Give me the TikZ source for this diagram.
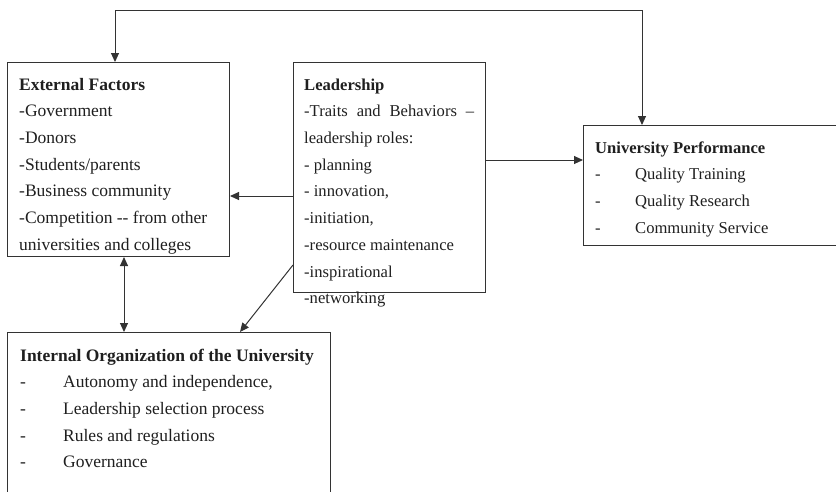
\documentclass[tikz,border=0pt]{standalone}
\usepackage{fontspec}
\setmainfont{Liberation Serif}
\usetikzlibrary{arrows.meta, positioning}

\begin{document}
\begin{tikzpicture}[x=1pt, y=-1pt, >={Triangle[length=9pt,width=8pt]},
	box/.style={draw=black!80, line width=1pt, anchor=north west, inner sep=0pt},
	txt/.style={anchor=north west, inner sep=0pt, align=left, text=black!88, font=\fontsize{17.5}{26.7}\selectfont},
	txtsm/.style={txt, font=\fontsize{16.6}{26.7}\selectfont},
	link/.style={draw=black!80, line width=1pt}]

\clip (0,0) rectangle (836,491);

% Boxes
	\node (ext)		[box, minimum width=222pt, minimum height=194pt]	at (7,62)	{};
	\node (lead)	[box, minimum width=192pt, minimum height=230pt]	at (293,62)	{};
	\node (perf)	[box, minimum width=270pt, minimum height=120pt]	at (583,125)	{};
	\node (intl)	[box, minimum width=323pt, minimum height=180pt]	at (7,332)	{};

% Box texts
	\node (ext_txt)		[txt]	at (19,71.3)	{\strut\textbf{External Factors}\\-Government\\-Donors\\-Students/parents\\-Business community\\-Competition -{}- from other\\universities and colleges};
	\node (lead_txt)	[txtsm]	at (304,71.3)	{\strut\textbf{Leadership}\\\makebox[170pt][s]{-Traits and Behaviors \textendash}\\leadership roles:\\- planning\\- innovation,\\-initiation,\\-resource maintenance\\-inspirational\\-networking};
	\node (perf_txt)	[txtsm]	at (595,134.3)	{\strut\textbf{University Performance}\\\makebox[40pt][l]{-}Quality Training\\\makebox[40pt][l]{-}Quality Research\\\makebox[40pt][l]{-}Community Service};
	\node (intl_txt)	[txt]	at (20,342.3)	{\strut\textbf{Internal Organization of the University}\\\makebox[43pt][l]{-}Autonomy and independence,\\\makebox[43pt][l]{-}Leadership selection process\\\makebox[43pt][l]{-}Rules and regulations\\\makebox[43pt][l]{-}Governance};

% Rows and columns for the connectors
	\coordinate (lvl_top)	at (0,10);
	\coordinate (lvl_up)	at (0,160);
	\coordinate (lvl_ext)	at (0,196);
	\coordinate (lvl_diag)	at (0,265);
	\coordinate (col_ext)	at (115,0);
	\coordinate (col_perf)	at (642,0);
	\coordinate (col_dbl)	at (124,0);
	\coordinate (col_diag)	at (240,0);

% Connectors
	\draw[link, <->] (ext.north -| col_ext) -- (col_ext |- lvl_top) -- (col_perf |- lvl_top) -- (perf.north -| col_perf);
	\draw[link, ->] (lead.east |- lvl_up) -- (perf.west |- lvl_up);
	\draw[link, ->] (lead.west |- lvl_ext) -- (ext.east |- lvl_ext);
	\draw[link, ->] (lead.west |- lvl_diag) -- (intl.north -| col_diag);
	\draw[link, <->] (ext.south -| col_dbl) -- (intl.north -| col_dbl);

\end{tikzpicture}
\end{document}
